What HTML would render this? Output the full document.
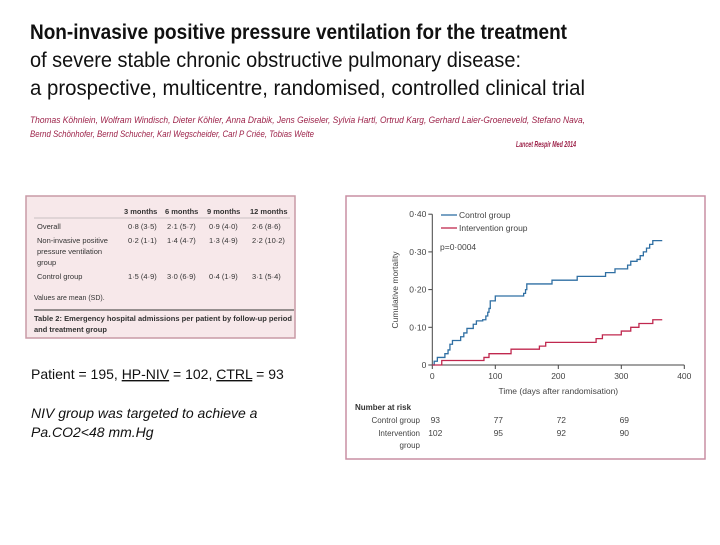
<!DOCTYPE html>
<html><head><meta charset="utf-8"><style>
body{margin:0;background:#fff;width:720px;height:540px;overflow:hidden;}
svg text{font-family:"Liberation Sans",sans-serif;}
</style></head><body>
<svg width="720" height="540" viewBox="0 0 720 540" xmlns="http://www.w3.org/2000/svg">
<g font-size="21" fill="#111">
<text x="30" y="39" textLength="537" lengthAdjust="spacingAndGlyphs" font-weight="bold">Non-invasive positive pressure ventilation for the treatment</text>
<text x="30" y="67" textLength="491" lengthAdjust="spacingAndGlyphs" font-weight="500">of severe stable chronic obstructive pulmonary disease:</text>
<text x="30" y="95" textLength="555" lengthAdjust="spacingAndGlyphs" font-weight="500">a prospective, multicentre, randomised, controlled clinical trial</text>
</g>
<g font-size="9" font-style="italic" fill="#9c2148">
<text x="30" y="123" textLength="555" lengthAdjust="spacingAndGlyphs">Thomas Köhnlein, Wolfram Windisch, Dieter Köhler, Anna Drabik, Jens Geiseler, Sylvia Hartl, Ortrud Karg, Gerhard Laier-Groeneveld, Stefano Nava,</text>
<text x="30" y="137" textLength="284" lengthAdjust="spacingAndGlyphs">Bernd Schönhofer, Bernd Schucher, Karl Wegscheider, Carl P Criée, Tobias Welte</text>
<text x="516" y="147" textLength="60" lengthAdjust="spacingAndGlyphs" font-weight="bold" font-size="8.5">Lancet Respir Med 2014</text>
</g>
<g>
<rect x="26" y="196" width="269" height="142" fill="#f7e8ea" stroke="#c99aa6" stroke-width="1.5"/>
<g font-size="7.5" fill="#333">
<text x="124" y="214" font-weight="bold">3 months</text><text x="165" y="214" font-weight="bold">6 months</text><text x="207" y="214" font-weight="bold">9 months</text><text x="250" y="214" font-weight="bold">12 months</text>
<line x1="34" y1="218" x2="290" y2="218" stroke="#999" stroke-width="0.6"/>
<text x="37" y="229">Overall</text><text x="128" y="229">0·8 (3·5)</text><text x="167" y="229">2·1 (5·7)</text><text x="209" y="229">0·9 (4·0)</text><text x="252" y="229">2·6 (8·6)</text>
<text x="37" y="243">Non-invasive positive</text><text x="128" y="243">0·2 (1·1)</text><text x="167" y="243">1·4 (4·7)</text><text x="209" y="243">1·3 (4·9)</text><text x="252" y="243">2·2 (10·2)</text>
<text x="37" y="254">pressure ventilation</text><text x="37" y="265">group</text>
<text x="37" y="279">Control group</text><text x="128" y="279">1·5 (4·9)</text><text x="167" y="279">3·0 (6·9)</text><text x="209" y="279">0·4 (1·9)</text><text x="252" y="279">3·1 (5·4)</text>
<text x="34" y="300" font-size="7">Values are mean (SD).</text>
<line x1="34" y1="310" x2="294" y2="310" stroke="#333" stroke-width="1"/>
<text x="34" y="321" font-weight="bold" font-size="7.5" textLength="258" lengthAdjust="spacingAndGlyphs">Table 2: Emergency hospital admissions per patient by follow-up period</text>
<text x="34" y="332" font-weight="bold" font-size="7.5">and treatment group</text>
</g></g>
<g font-size="14" fill="#111">
<text x="31" y="379">Patient = 195, <tspan text-decoration="underline">HP-NIV</tspan> = 102, <tspan text-decoration="underline">CTRL</tspan> = 93</text>
<text x="31" y="418" font-style="italic">NIV group was targeted to achieve a</text>
<text x="31" y="437" font-style="italic">Pa.CO2&lt;48 mm.Hg</text>
</g>
<rect x="346" y="196" width="359" height="263" fill="#fff" stroke="#c98fa3" stroke-width="1.5"/>
<g id="chart"></g>
</svg>
<script>
const xTicks=[0,100,200,300,400];
const yTicks=[0,0.10,0.20,0.30,0.40];
const yTickLabels=["0","0·10","0·20","0·30","0·40"];
const controlDays=[0,3,8,20,25,28,32,45,50,55,65,70,80,85,88,90,92,100,145,148,150,190,230,275,290,310,315,325,330,335,340,345,350,365];
const controlVals=[0,0.01,0.02,0.03,0.04,0.055,0.065,0.075,0.085,0.097,0.108,0.117,0.12,0.13,0.14,0.15,0.17,0.183,0.19,0.2,0.215,0.225,0.235,0.245,0.255,0.265,0.275,0.28,0.29,0.3,0.31,0.32,0.33,0.33];
const intDays=[0,15,82,90,125,170,180,260,270,300,315,328,350,365];
const intVals=[0,0.012,0.02,0.03,0.042,0.05,0.06,0.07,0.08,0.09,0.1,0.11,0.12,0.12];
const riskTimes=[0,100,200,300];
const riskControl=[93,77,72,69];
const riskInt=[102,95,92,90];
const NS='http://www.w3.org/2000/svg';
const g=document.getElementById('chart');
const X=d=>432.3+d*0.63;
const Y=v=>365-v*377;
function mk(tag,attrs,txt){const e=document.createElementNS(NS,tag);for(const k in attrs)e.setAttribute(k,attrs[k]);if(txt!==undefined)e.textContent=txt;g.appendChild(e);return e;}
let e=mk('line',{x1:X(0),y1:Y(0),x2:X(0),y2:Y(0.4),stroke:'#444','stroke-width':1});


e=mk('line',{x1:X(0),y1:Y(0),x2:X(400),y2:Y(0),stroke:'#444','stroke-width':1});


yTicks.forEach((v,i)=>{
 mk('line',{x1:X(0)-4,y1:Y(v),x2:X(0),y2:Y(v),stroke:'#444'});
 const t=mk('text',{x:X(0)-6,y:Y(v)+3,'font-size':8.5,fill:'#444','text-anchor':'end'},yTickLabels[i]);
 
 
});
xTicks.forEach(d=>{
 mk('line',{x1:X(d),y1:Y(0),x2:X(d),y2:Y(0)+4,stroke:'#444'});
 const t=mk('text',{x:X(d),y:Y(0)+14,'font-size':8.5,fill:'#444','text-anchor':'middle'},d);
 
 
});
e=mk('text',{x:X(200),y:394,'font-size':8.5,fill:'#444','text-anchor':'middle'},'Time (days after randomisation)');


e=mk('text',{x:0,y:0,'font-size':8.5,fill:'#444','text-anchor':'middle',transform:'translate(398,290) rotate(-90)'},'Cumulative mortality');


function step(days,vals){let d='M'+X(days[0])+','+Y(vals[0]);for(let i=1;i<days.length;i++){d+=' H'+X(days[i])+' V'+Y(vals[i]);}return d;}
e=mk('path',{d:step(controlDays,controlVals),fill:'none',stroke:'#2f6fa3','stroke-width':1.3});


e=mk('path',{d:step(intDays,intVals),fill:'none',stroke:'#c0284f','stroke-width':1.3});


e=mk('line',{x1:441,y1:215,x2:457,y2:215,stroke:'#2f6fa3','stroke-width':1.3});


e=mk('text',{x:459,y:218,'font-size':8.5,fill:'#444'},'Control group');


e=mk('line',{x1:441,y1:228,x2:457,y2:228,stroke:'#c0284f','stroke-width':1.3});


e=mk('text',{x:459,y:231,'font-size':8.5,fill:'#444'},'Intervention group');


e=mk('text',{x:440,y:250,'font-size':8.5,fill:'#444'},'p=0·0004');


e=mk('text',{x:355,y:410,'font-size':8,fill:'#333','font-weight':'bold'},'Number at risk');


e=mk('text',{x:420,y:423,'font-size':8,fill:'#444','text-anchor':'end'},'Control group');


e=mk('text',{x:420,y:436,'font-size':8,fill:'#444','text-anchor':'end'},'Intervention');


mk('text',{x:420,y:448,'font-size':8,fill:'#444','text-anchor':'end'},'group');
riskTimes.forEach((d,i)=>{
 let t=mk('text',{x:X(d)+3,y:423,'font-size':8.5,fill:'#444','text-anchor':'middle'},riskControl[i]);
 
 
 t=mk('text',{x:X(d)+3,y:436,'font-size':8.5,fill:'#444','text-anchor':'middle'},riskInt[i]);
 
 
});
</script>
</body></html>
